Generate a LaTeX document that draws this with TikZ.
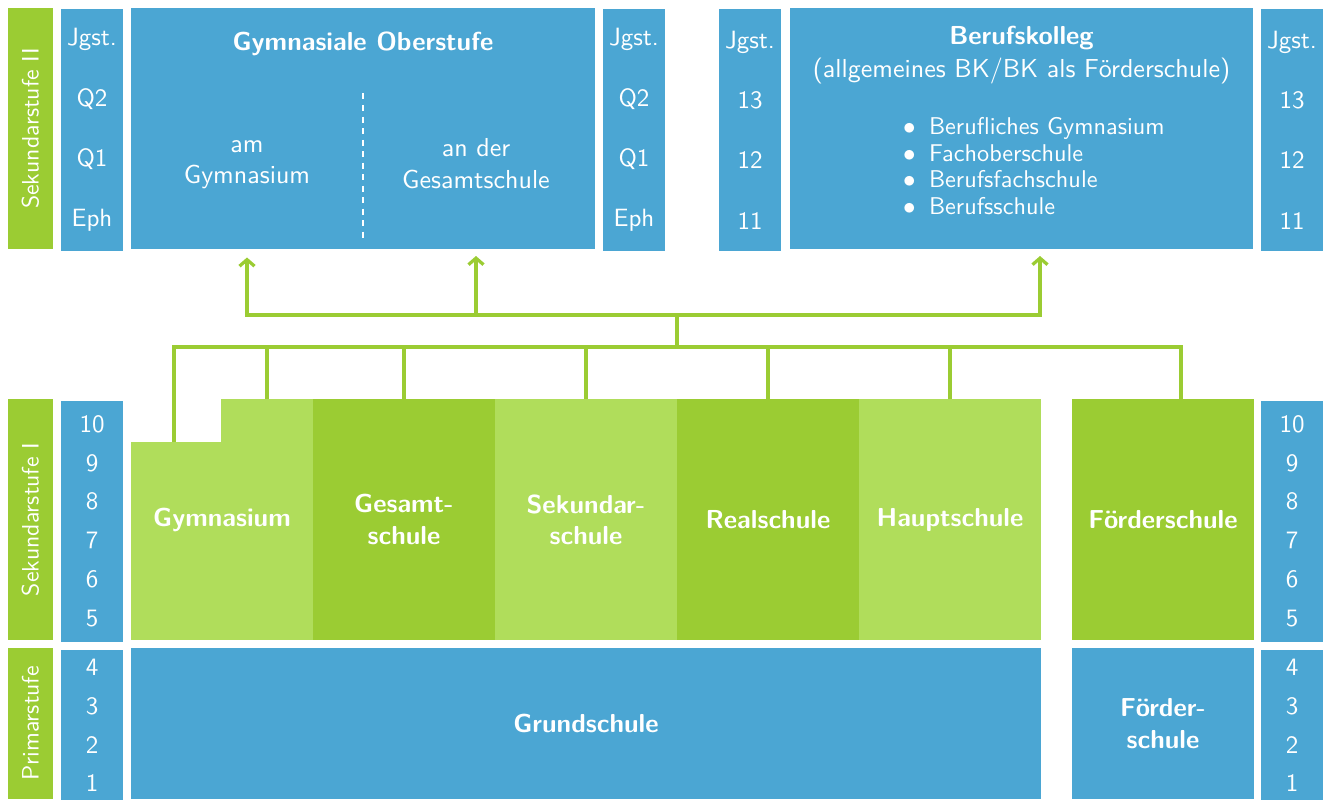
\documentclass[tikz,border=0pt]{standalone}
\usepackage{tikz}
\usetikzlibrary{arrows.meta}

\definecolor{bkblue}{RGB}{75,166,211}
\definecolor{sgreen}{RGB}{155,204,51}
\definecolor{lgreen}{RGB}{176,221,91}
\newcommand{\bkitem}{\makebox[10.4pt][l]{$\bullet$}}

\begin{document}
\begin{tikzpicture}[x=0.4pt,y=-0.4pt,font=\sffamily\fontsize{10.4}{12.5}\selectfont,
  sz/.style 2 args={minimum width=#1*0.4pt,minimum height=#2*0.4pt},
  cell/.style={inner sep=0pt,outer sep=0pt,text=white,align=center},
  bluecell/.style={cell,fill=bkblue},
  darkcell/.style={cell,fill=sgreen,font=\sffamily\fontsize{10.4}{12.5}\selectfont\bfseries},
  lightcell/.style={cell,fill=lgreen,font=\sffamily\fontsize{10.4}{12.5}\selectfont\bfseries},
  stagebar/.style={cell,fill=sgreen,rotate=90,font=\sffamily\fontsize{9.5}{11}\selectfont},
  topgrades/.style={bluecell,font=\sffamily\fontsize{10}{24.1}\selectfont},
  grades/.style={bluecell,font=\sffamily\fontsize{10}{15.5}\selectfont},
  link/.style={sgreen,line width=1.3pt},
  uplink/.style={link,-{Straight Barb[length=2.6pt,width=6pt]},shorten >=2.8pt}]
\useasboundingbox (0,0) rectangle (1331,799);
% Sekundarstufe II
\node[stagebar,sz={241}{45}] (sek2) at (30.5,128.5) {Sekundarstufe II}; % sek2
\node[topgrades,sz={62}{241}] (jg1) at (92,130) {Jgst.\\Q2\\Q1\\Eph}; % jg1
\node[bluecell,sz={464}{241}] (gymo) at (363,128.5) {}; % gymo
\node[cell,font=\sffamily\fontsize{10.4}{12.5}\selectfont\bfseries] (gymotitle) at (363,44) {Gymnasiale Oberstufe}; % gymo
\node[cell,sz={232}{171}] (amgym) at (247,165) {am\\Gymnasium}; % gymo
\node[cell,sz={232}{171}] (angs) at (476,163.5) {an der\\Gesamtschule}; % gymo
\draw[white,line width=0.5pt,dash pattern=on 2.4pt off 2.2pt] ([yshift=-5.6pt]amgym.north east) -- ([yshift=3.6pt]amgym.south east); % gymo
\node[topgrades,sz={62}{241}] (jg2) at (634,130) {Jgst.\\Q2\\Q1\\Eph}; % jg2
\node[topgrades,sz={62}{241}] (jg3) at (750,130) {Jgst.\\13\\12\\11}; % jg3
\node[bluecell,sz={463}{241}] (bk) at (1021.5,128.5) {}; % bk
\node[cell] (bktitle) at (1021.5,55) {\textbf{Berufskolleg}\\[0.6pt](allgemeines BK/BK als Förderschule)}; % bk
\node[cell,anchor=west,align=left,font=\sffamily\fontsize{9.7}{10.6}\selectfont] (bklist) at (903,166)
  {\bkitem Berufliches Gymnasium\\\bkitem Fachoberschule\\\bkitem Berufsfachschule\\\bkitem Berufsschule}; % bk
\node[topgrades,sz={62}{241}] (jg4) at (1292,130) {Jgst.\\13\\12\\11}; % jg4
% Sekundarstufe I
\node[stagebar,sz={241}{45}] (sek1) at (30.5,519.5) {Sekundarstufe I}; % sek1
\node[grades,sz={62}{241}] (n1) at (92,521) {10\\9\\8\\7\\6\\5}; % n1
\node[lightcell,sz={92}{198}] (gymL) at (177,541) {}; % gym
\node[lightcell,sz={92}{241}] (gymR) at (267,519.5) {}; % gym
\node[cell,font=\sffamily\fontsize{10.4}{12.5}\selectfont\bfseries] (gymtxt) at (222,519.5) {Gymnasium}; % gym
\node[darkcell,sz={182}{241}] (gesamt) at (404,519.5) {Gesamt-\\schule}; % gesamt
\node[lightcell,sz={182}{241}] (sek) at (586,519.5) {Sekundar-\\schule}; % sek
\node[darkcell,sz={182}{241}] (real) at (768,519.5) {Realschule}; % real
\node[lightcell,sz={182}{241}] (haupt) at (950,519.5) {Hauptschule}; % haupt
\node[darkcell,sz={182}{241}] (fs) at (1163,519.5) {Förderschule}; % fs
\node[grades,sz={62}{241}] (n2) at (1292,521) {10\\9\\8\\7\\6\\5}; % n2
% Primarstufe
\node[stagebar,sz={151}{45}] (prim) at (30.5,723.5) {Primarstufe}; % prim
\node[grades,sz={62}{151}] (n3) at (92,725.5) {4\\3\\2\\1}; % n3
\node[bluecell,sz={910}{151},font=\sffamily\fontsize{10.4}{12.5}\selectfont\bfseries] (grund) at (586,723.5) {Grundschule}; % grund
\node[bluecell,sz={182}{151},font=\sffamily\fontsize{10.4}{12.5}\selectfont\bfseries] (fs2) at (1163,723.5) {Förder-\\schule}; % fs2
\node[grades,sz={62}{151}] (n4) at (1292,725.5) {4\\3\\2\\1}; % n4
% Uebergaenge
\coordinate (hub) at (677,315); % hub
\coordinate (bus) at (677,347); % bus
\coordinate (gymin) at ([xshift=-1.2pt]gymL.north); % gym
\coordinate (fsin) at ([xshift=7.2pt]fs.north); % fs
\coordinate (bkin) at ([xshift=7.4pt]bk.south); % bk
\draw[link] (gymin) |- (bus) -| (fsin); % bus
\foreach \s in {gymR,gesamt,sek,real,haupt}
  \draw[link] (\s.north) -- (\s.north |- bus); % bus
\draw[link] (bus) -- (hub); % hub
\draw[uplink] (hub) -| (amgym.south); % hub
\draw[uplink] (hub) -| (angs.south); % hub
\draw[uplink] (hub) -| (bkin); % hub

\end{tikzpicture}
\end{document}
